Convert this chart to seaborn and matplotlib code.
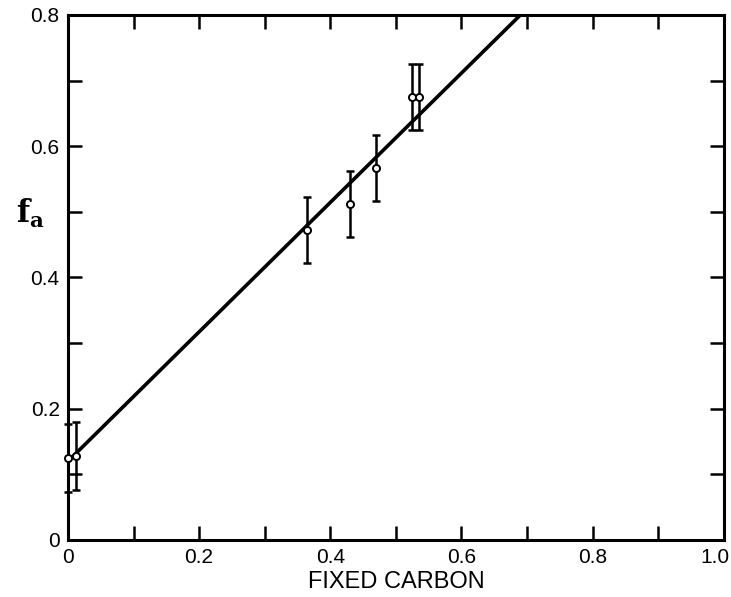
import matplotlib
matplotlib.use("Agg")
import matplotlib.pyplot as plt
import matplotlib.transforms as mtransforms
import seaborn as sns
import numpy as np
import pandas as pd

# data
fixed_carbon = [0.0, 0.012, 0.365, 0.43, 0.47, 0.525, 0.535]
fa = [0.125, 0.128, 0.472, 0.512, 0.567, 0.675, 0.675]
fa_err = [0.052, 0.052, 0.05, 0.05, 0.05, 0.05, 0.05]
fit_x = [0.0, 0.69]
fit_y = [0.12, 0.80]
xticks = [0, 0.2, 0.4, 0.6, 0.8, 1.0]
xticklabels = ["0", "0.2", "0.4", "0.6", "0.8", "1.0"]
yticks = [0, 0.2, 0.4, 0.6, 0.8]
yticklabels = ["0", "0.2", "0.4", "0.6", "0.8"]

sns.set_theme(style="ticks")
plt.rcParams['font.family'] = ['Liberation Sans Narrow', 'Liberation Sans', 'DejaVu Sans']
plt.rcParams['mathtext.fontset'] = 'dejavuserif'
plt.rcParams['text.color'] = 'black'
plt.rcParams['axes.labelcolor'] = 'black'

df = pd.DataFrame({"x": fixed_carbon, "y": fa, "err": fa_err})
fit = pd.DataFrame({"x": fit_x, "y": fit_y})

fig = plt.figure(figsize=(7.31, 5.97), dpi=100)
ax = fig.add_axes([0.093, 0.0955, 0.897, 0.8795])

sns.lineplot(data=fit, x="x", y="y", ax=ax, color="black", linewidth=2.6, zorder=2)
eb = ax.errorbar(df["x"], df["y"], yerr=df["err"], fmt="none", ecolor="black",
                 elinewidth=1.8, capsize=3, capthick=1.8, zorder=3)
for artist in eb.lines[1]:
    artist.set_clip_on(False)
for coll in eb.lines[2]:
    coll.set_clip_on(False)
sns.scatterplot(data=df, x="x", y="y", ax=ax, marker="o", s=26,
                facecolor="white", edgecolor="black", linewidth=1.4, zorder=4)
for c in ax.collections:
    c.set_clip_on(False)

ax.set_xlim(0, 1.0)
ax.set_ylim(0, 0.8)
ax.set_xticks(xticks)
ax.set_xticklabels(xticklabels)
ax.set_yticks(yticks)
ax.set_yticklabels(yticklabels)
ax.set_xticks(np.arange(0.1, 1.0, 0.2), minor=True)
ax.set_yticks(np.arange(0.1, 0.8, 0.2), minor=True)
ax.tick_params(which="both", direction="in", length=10, width=1.8,
               top=True, right=True, labelsize=15, pad=6, colors="black")
for s in ax.spines.values():
    s.set_linewidth(2.2)
    s.set_color("black")

# last x tick label sits against the right edge as in the reference
last = ax.get_xticklabels()[-1]
last.set_horizontalalignment("right")
last.set_transform(last.get_transform() + mtransforms.ScaledTranslation(6 / 100, 0, fig.dpi_scale_trans))

ax.set_xlabel("FIXED CARBON", fontsize=17, labelpad=3, color="black")
ax.set_ylabel(r"$\mathbf{f}_{\mathbf{a}}$", fontsize=22, rotation=0, va="center", color="black")
ax.yaxis.set_label_coords(-0.058, 0.622)

fig.savefig("out.png", dpi=100)
